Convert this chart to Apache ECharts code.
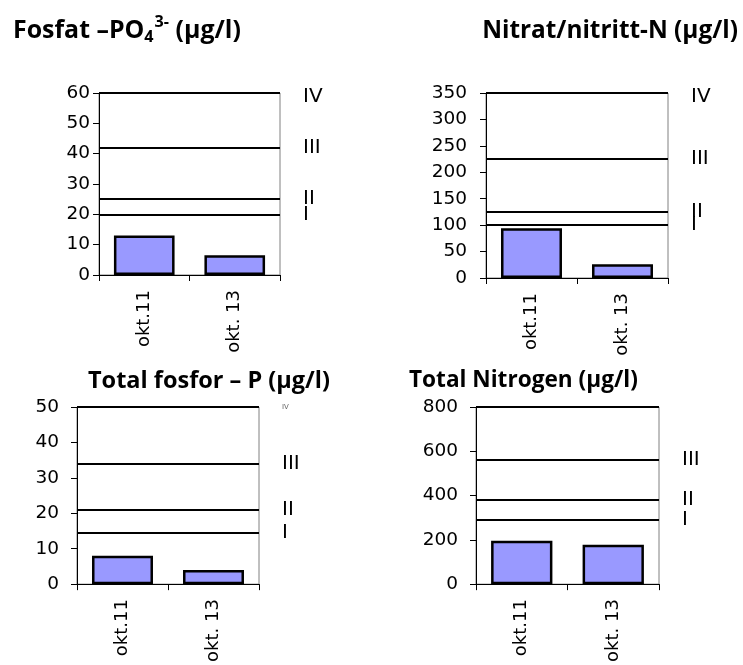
<!DOCTYPE html>
<html>
<head>
<meta charset="utf-8">
<script src="https://cdn.jsdelivr.net/npm/echarts@6/dist/echarts.min.js"></script>
<style>
html,body{margin:0;padding:0;background:#fff;}
#c{width:743px;height:665px;}
</style>
</head>
<body>
<div id="c"></div>
<script>
// ---- data ----
const categories = ['okt.11', 'okt. 13'];
const fosfatValues = [13, 6.5];
const nitratValues = [94, 26];
const totalPValues = [8, 4];
const totalNValues = [196, 178];

const classLabels = ['I', 'II', 'III', 'IV'];
const fosfatLimits = [20, 25, 42, 60];
const nitratLimits = [100, 125, 225, 350];
const totalPLimits = [14.5, 21, 34, 50];
const totalNLimits = [290, 380, 560, 800];

const fosfatTicks = {max: 60, interval: 10};
const nitratTicks = {max: 350, interval: 50};
const totalPTicks = {max: 50, interval: 10};
const totalNTicks = {max: 800, interval: 200};

// ---- layout ----
const FONT = 'DejaVu Sans';
const grids = [
  {left: 99, top: 93, width: 181, height: 182},
  {left: 486, top: 93, width: 182, height: 185},
  {left: 77, top: 407, width: 182, height: 185},
  {left: 476, top: 407, width: 183, height: 185}
];
const yMargins = [9, 19, 18, 18];
const charts = [
  {values: fosfatValues, limits: fosfatLimits, ticks: fosfatTicks},
  {values: nitratValues, limits: nitratLimits, ticks: nitratTicks},
  {values: totalPValues, limits: totalPLimits, ticks: totalPTicks},
  {values: totalNValues, limits: totalNLimits, ticks: totalNTicks}
];

function limitLabel(ci, i) {
  const base = {show: true, position: 'end', distance: 23, color: '#000',
    fontFamily: FONT, fontSize: 20, formatter: classLabels[i]};
  if (i === 3) {
    if (ci === 0 || ci === 1) base.offset = [0, 4];
    if (ci === 2) { base.fontSize = 7; base.color = '#666'; }
    if (ci === 3) base.show = false;
  }
  return base;
}

const option = {
  animation: false,
  backgroundColor: '#fff',
  grid: grids.map(g => Object.assign({show: true, borderColor: '#808080', borderWidth: 1, backgroundColor: 'transparent', containLabel: false}, g)),
  xAxis: charts.map((c, i) => ({
    type: 'category', gridIndex: i, data: categories, boundaryGap: true,
    axisLine: {show: true, lineStyle: {color: '#000', width: 1}},
    axisTick: {show: true, length: 6, alignWithLabel: false, lineStyle: {color: '#000'}},
    axisLabel: {rotate: 90, margin: 15, interval: 0, fontFamily: FONT, fontSize: 18, color: '#000'},
    splitLine: {show: false}
  })),
  yAxis: charts.map((c, i) => ({
    type: 'value', gridIndex: i, min: 0, max: c.ticks.max, interval: c.ticks.interval,
    axisLine: {show: true, lineStyle: {color: '#000', width: 1}},
    axisTick: {show: true, length: 6, lineStyle: {color: '#000'}},
    axisLabel: {margin: yMargins[i], fontFamily: FONT, fontSize: 18.5, color: '#000'},
    splitLine: {show: false}
  })),
  series: charts.map((c, i) => ({
    type: 'bar', xAxisIndex: i, yAxisIndex: i, data: c.values, barWidth: '67%',
    clip: false,
    itemStyle: {color: '#9999FF', borderColor: '#000', borderWidth: 2.5},
    markLine: {
      silent: true, symbol: ['none', 'none'],
      lineStyle: {color: '#000', width: 2.2, type: 'solid'},
      data: c.limits.map((v, k) => ({yAxis: v, label: limitLabel(i, k)}))
    }
  })),
  graphic: []
};

// ---- titles ----
const ctx = document.createElement('canvas').getContext('2d');
const TF = 'Open Sans';
function tw(text, size) { ctx.font = 'bold ' + size + 'px ' + TF; return ctx.measureText(text).width; }
function tText(x, y, text, size, align) {
  return {type: 'text', x: x, y: y, style: {text: text, font: 'bold ' + size + 'px ' + TF,
    fill: '#000', textAlign: align || 'left', textVerticalAlign: 'middle'}};
}
function fitSize(text, target) { return 20 * target / tw(text, 20); }

// Title 1 with sub/superscript, fitted to its width in the picture
const t1a = 'Fosfat –PO', t1sub = '4', t1sup = '3-', t1b = ' (µg/l)';
const w20 = tw(t1a, 20) + tw(t1sub, 13) + tw(t1sup, 13) + tw(t1b, 20);
const s1 = 20 * 227 / w20, ss1 = s1 * 0.65;
let x = 13;
option.graphic.push(tText(x, 31, t1a, s1));
x += tw(t1a, s1);
option.graphic.push(tText(x, 37, t1sub, ss1));
x += tw(t1sub, ss1) + 1;
option.graphic.push(tText(x, 22, t1sup, ss1));
x += tw(t1sup, ss1);
option.graphic.push(tText(x, 31, t1b, s1));

const t2 = 'Nitrat/nitritt-N (µg/l)';
option.graphic.push(tText(738, 31, t2, fitSize(t2, 256), 'right'));
const t3 = 'Total fosfor – P (µg/l)';
const s3 = fitSize(t3, 242);
option.graphic.push(tText(88, 381, t3, s3));
const t4 = 'Total Nitrogen (µg/l)';
option.graphic.push(tText(409, 381, t4, (s3 + fitSize(t4, 220)) / 2));

const chart = echarts.init(document.getElementById('c'), null, {renderer: 'canvas'});
chart.setOption(option);
</script>
</body>
</html>
